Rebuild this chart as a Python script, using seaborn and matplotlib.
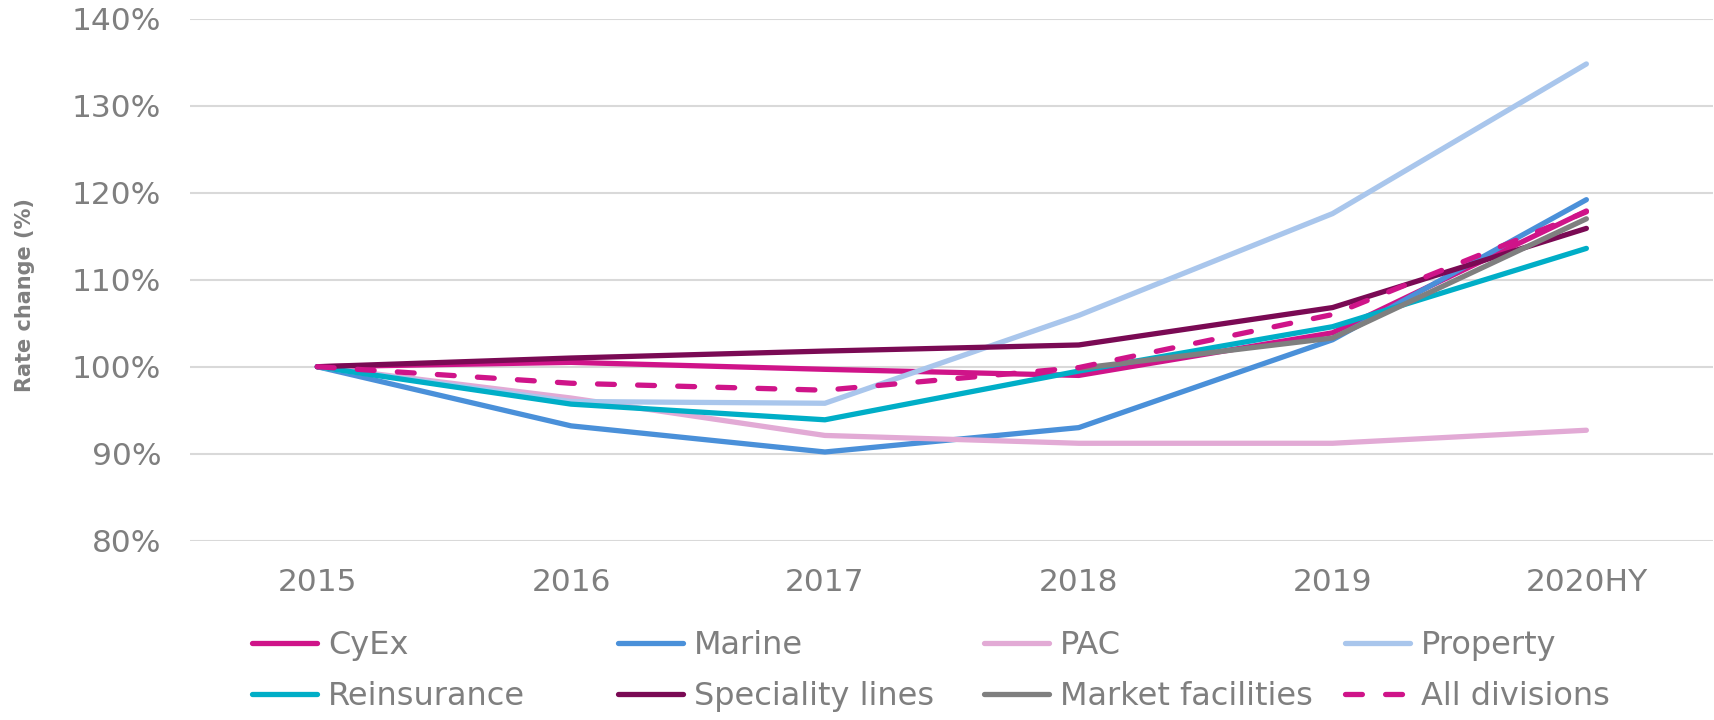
import matplotlib.pyplot as plt
import numpy as np
import pandas as pd
import seaborn as sns

# Data
years = ['2015', '2016', '2017', '2018', '2019', '2020HY']
cyex = [100.0, 100.5, 99.7, 99.0, 103.9, 117.9]
marine = [100.0, 93.2, 90.2, 93.0, 103.1, 119.2]
pac = [100.0, 96.4, 92.1, 91.2, 91.2, 92.7]
property_ = [100.0, 96.0, 95.8, 105.9, 117.6, 134.8]
reinsurance = [100.0, 95.7, 93.9, 99.5, 104.6, 113.6]
speciality = [100.0, 101.0, 101.8, 102.5, 106.8, 115.9]
market_fac = [np.nan, np.nan, np.nan, 99.8, 103.3, 117.0]
all_div = [100.0, 98.1, 97.3, 99.9, 106.0, 117.8]

names = ['CyEx', 'Marine', 'PAC', 'Property', 'Reinsurance',
         'Speciality lines', 'Market facilities', 'All divisions']
series = [cyex, marine, pac, property_, reinsurance, speciality, market_fac, all_div]
colors = ['#CF1489', '#4A90D9', '#E2AAD5', '#A9C6EC', '#00AEC7',
          '#7A0A54', '#7F7F7F', '#CF1489']

df = pd.DataFrame({'year': years * len(names),
                   'value': [v for s in series for v in s],
                   'division': [n for n in names for _ in years]}).dropna()

sns.set_theme(style="white")
plt.rcParams['font.family'] = ['DejaVu Sans']
grey = '#7F7F7F'

fig = plt.figure(figsize=(17.15, 7.2), dpi=100)
ax = fig.add_axes([0.111, 0.249, 0.888, 0.725])

lw = 3.8
for name, s, c in zip(names, series, colors):
    sub = df[df['division'] == name]
    sns.lineplot(data=sub, x='year', y='value', color=c, linewidth=lw,
                 ax=ax, label=name, sort=False)
    line = ax.lines[-1]
    line.set_solid_capstyle('round')
    line.set_solid_joinstyle('round')
    if name == 'All divisions':
        line.set_linestyle((0, (3.2, 4.4)))
        line.set_dash_capstyle('round')

ax.set_xlim(-0.5, 5.5)
ax.set_ylim(80, 140)
ax.set_yticks(range(80, 141, 10))
ax.set_yticklabels([f'{t}%' for t in range(80, 141, 10)])
ax.grid(axis='y', color='#D9D9D9', linewidth=1.5)
ax.set_axisbelow(True)
for sp in ax.spines.values():
    sp.set_visible(False)
ax.tick_params(axis='both', labelsize=22.5, labelcolor=grey, length=0)
ax.tick_params(axis='y', pad=21)
ax.tick_params(axis='x', pad=20)
ax.set_xlabel('')
ax.set_ylabel('Rate change (%)', fontsize=15, fontweight='bold', color=grey)
ax.yaxis.set_label_coords(-0.102, 0.47)

handles, labels = ax.get_legend_handles_labels()
ax.get_legend().remove()

# one legend per column, columns evenly spaced like the original
col_x = [252, 618, 984, 1345]
for col, x in enumerate(col_x):
    idx = [col, col + 4]
    leg = fig.legend([handles[i] for i in idx], [labels[i] for i in idx],
                     loc='center left', bbox_to_anchor=(x / 1715, 1 - 671 / 720),
                     frameon=False, fontsize=23, handlelength=2.05,
                     handletextpad=0.34, labelspacing=0.62,
                     borderpad=0, borderaxespad=0)
    for t in leg.get_texts():
        t.set_color(grey)
    for h in leg.get_lines():
        h.set_solid_capstyle('round')
        h.set_dash_capstyle('round')

plt.savefig('out.png', dpi=100)
